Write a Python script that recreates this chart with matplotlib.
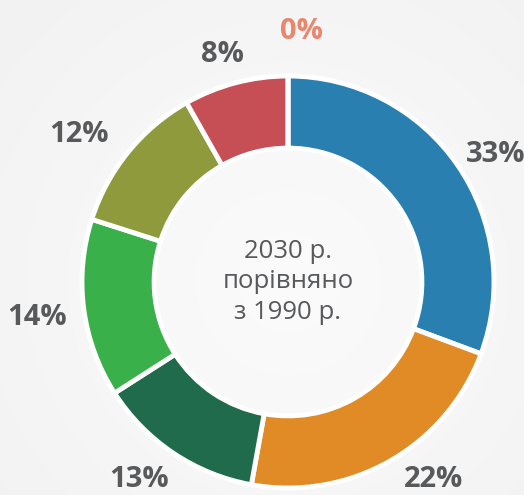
import numpy as np
import matplotlib
matplotlib.use("Agg")
import matplotlib.pyplot as plt

# slice shares as drawn (clockwise from top) and the printed labels
shares = [30.7, 22.2, 13.1, 14.0, 11.9, 8.2, 0.0]
labels = ["33%", "22%", "13%", "14%", "12%", "8%", "0%"]
colors = ["#2980b0", "#e08b26", "#1f6b4b", "#3ab04b", "#8e9a3c", "#c64e55", "#e8866e"]
label_colors = ["#58595b"] * 6 + ["#e8866e"]
center_text = "2030 р.\nпорівняно\nз 1990 р."

# label placement (angle in degrees, distance in radii) - layout only
label_place = [(31.5, 1.18), (-53.5, 1.19), (-127, 1.2), (188, 1.23),
               (144.8, 1.24), (106, 1.15), (87, 1.22)]

W, H = 524, 495
fig = plt.figure(figsize=(W / 100, H / 100), dpi=100)

# soft radial background
bg = fig.add_axes([0, 0, 1, 1])
yy, xx = np.mgrid[0:H, 0:W]
r = np.hypot(xx - 288, yy - 282) / 380.0
shade = 0.985 - 0.035 * np.clip(r, 0, 1)
bg.imshow(np.dstack([shade, shade, shade + 0.003]).clip(0, 1), extent=[0, W, H, 0], aspect="auto")
bg.axis("off")

ax = fig.add_axes([0, 0, 1, 1])
ax.patch.set_alpha(0)
wedges, _ = ax.pie(shares, colors=colors, startangle=90, counterclock=False,
                   wedgeprops=dict(width=0.35, edgecolor="white", linewidth=3.5))

for (ang, dist), lab, c in zip(label_place, labels, label_colors):
    a = np.deg2rad(ang)
    ax.text(dist * np.cos(a), dist * np.sin(a), lab, ha="center", va="center",
            fontsize=21, fontweight="bold", color=c, family=["Open Sans", "DejaVu Sans"])

ax.text(0, 0, center_text, ha="center", va="center", fontsize=18.5, color="#58595b",
        linespacing=1.3, family=["Open Sans", "DejaVu Sans"])

# map pie units to pixels: centre (288, 282), radius 206 px
R = 206.0
ax.set_xlim(-288 / R, (W - 288) / R)
ax.set_ylim(-(H - 282) / R, 282 / R)
ax.set_aspect("auto")
ax.axis("off")

fig.savefig("out.png", dpi=100)
